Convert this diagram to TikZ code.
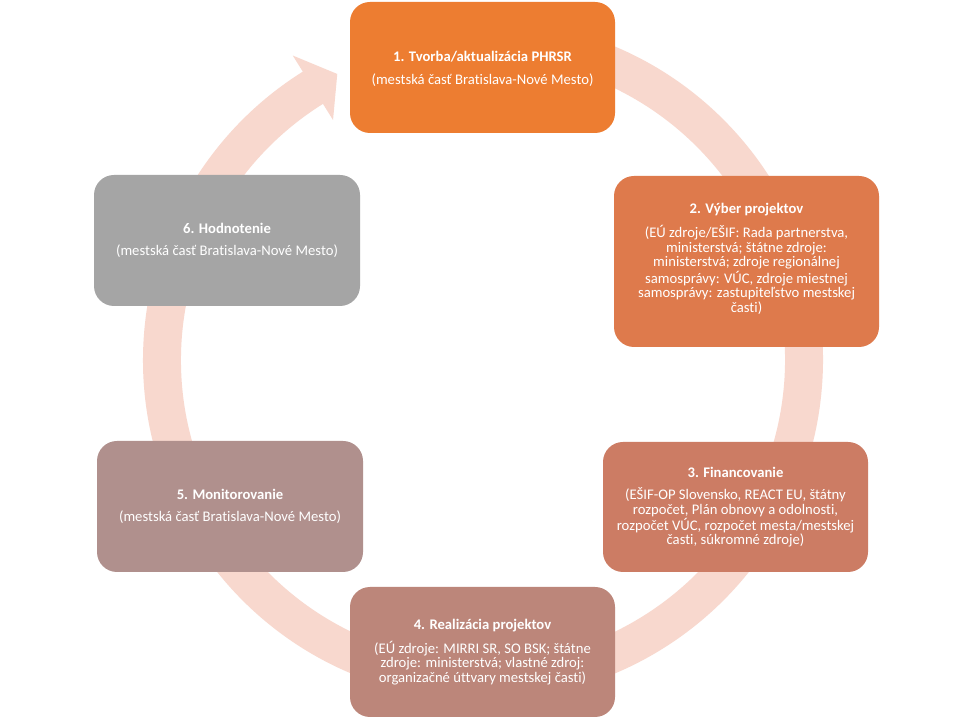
\documentclass[tikz,border=0pt]{standalone}
\usepackage{fontspec}
\setmainfont{Carlito}[Ligatures={NoCommon}]
\definecolor{ringc}{RGB}{248,216,206}
\definecolor{cA}{RGB}{237,125,49}
\definecolor{cB}{RGB}{222,122,76}
\definecolor{cC}{RGB}{204,124,100}
\definecolor{cD}{RGB}{188,134,122}
\definecolor{cE}{RGB}{176,144,141}
\definecolor{cF}{RGB}{165,165,165}
\tikzset{
  box/.style={rounded corners=15pt, minimum width=198.75pt, minimum height=98.25pt, inner sep=0pt, draw=none},
  txt/.style={text=white, align=center, inner sep=0pt, font=\fontsize{11}{10.9}\selectfont}
}
\begin{document}
\begin{tikzpicture}[x=0.75pt,y=0.75pt]
\useasboundingbox (0,0) rectangle (966,720);
\fill[white] (0,0) rectangle (966,720);
% circular arrow
\begin{scope}[shift={(483,360)}]
\fill[ringc] (85:255pt) arc[start angle=85, end angle=-238, radius=255pt]
  -- (122:269.25pt) -- (117:240.75pt) -- (122:212.25pt) -- (122:226.5pt)
  arc[start angle=-238, end angle=85, radius=226.5pt] -- cycle;
\end{scope}
% boxes
\node[box, fill=cA] (b1) at (482.5,652.5) {};
\node[box, fill=cB, minimum height=128.25pt] (b2) at (746.5,458.5) {};
\node[box, fill=cC, minimum height=97.5pt] (b3) at (735.5,213) {};
\node[box, fill=cD, minimum height=97.5pt] (b4) at (482.5,68) {};
\node[box, fill=cE, minimum width=199.5pt] (b5) at (230,213.5) {};
\node[box, fill=cF, minimum width=199.5pt] (b6) at (227,479.5) {};
% texts
\node[txt] (t1) at ([yshift=-1pt]b1.center) {\textbf{1. Tvorba/aktualizácia PHRSR}\\[6pt](mestská časť Bratislava-Nové Mesto)};
\node[txt] (t2) at ([yshift=2pt]b2.center) {\textbf{2. Výber projektov}\\[6pt](EÚ zdroje/EŠIF: Rada partnerstva,\\ministerstvá; štátne zdroje:\\ministerstvá; zdroje regionálnej\\samosprávy: VÚC, zdroje miestnej\\samosprávy: zastupiteľstvo mestskej\\časti)};
\node[txt] (t3) at (b3.center) {\textbf{3. Financovanie}\\[6pt](EŠIF-OP Slovensko, REACT EU, štátny\\rozpočet, Plán obnovy a odolnosti,\\rozpočet VÚC, rozpočet mesta/mestskej\\časti, súkromné zdroje)};
\node[txt] (t4) at (b4.center) {\textbf{4. Realizácia projektov}\\[6pt](EÚ zdroje: MIRRI SR, SO BSK; štátne\\zdroje: ministerstvá; vlastné zdroj:\\organizačné úttvary mestskej časti)};
\node[txt] (t5) at (b5.center) {\textbf{5. Monitorovanie}\\[6pt](mestská časť Bratislava-Nové Mesto)};
\node[txt] (t6) at (b6.center) {\textbf{6. Hodnotenie}\\[6pt](mestská časť Bratislava-Nové Mesto)};
\end{tikzpicture}
\end{document}
